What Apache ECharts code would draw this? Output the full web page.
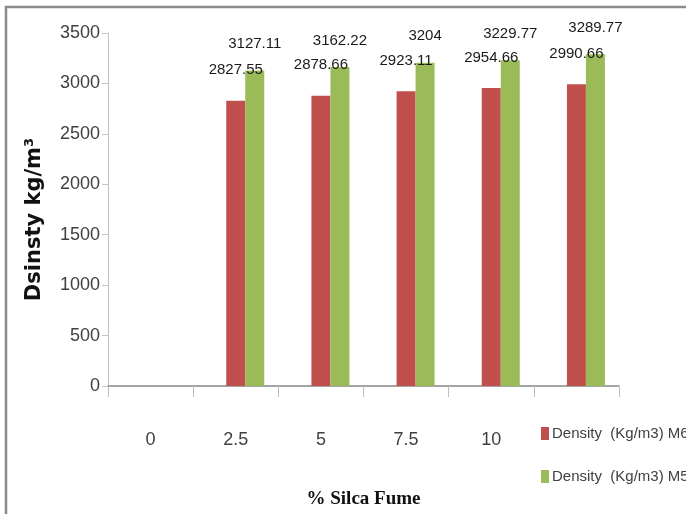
<!DOCTYPE html>
<html>
<head>
<meta charset="utf-8">
<script src="https://cdn.jsdelivr.net/npm/echarts@6/dist/echarts.min.js"></script>
<style>
  html, body { margin: 0; padding: 0; background: #fff; }
  #chart { width: 686px; height: 514px; }
</style>
</head>
<body>
<div id="chart"></div>
<script>
// Silica fume content (%) along the category axis
const categories = ['0', '2.5', '5', '7.5', '10', ''];
// Density values, kg/m3 (first category has no measurement)
const densityM60 = [null, 2827.55, 2878.66, 2923.11, 2954.66, 2990.66];
const densityM55 = [null, 3127.11, 3162.22, 3204, 3229.77, 3289.77];
const spacerSeries = [null, null, null, null, null, null];
const yTicks = { min: 0, max: 3500, interval: 500 };

const sans = '"Liberation Sans Narrow", "Liberation Sans", Arial, sans-serif';

const chart = echarts.init(document.getElementById('chart'), null, { renderer: 'canvas' });

const valueLabel = (distance) => ({
  show: true,
  position: 'top',
  distance: distance,
  fontFamily: sans,
  fontSize: 15,
  color: '#1a1a1a',
  formatter: p => String(p.value)
});

chart.setOption({
  animation: false,
  backgroundColor: '#ffffff',
  graphic: [{
    type: 'rect',
    shape: { x: 6, y: 7, width: 700, height: 530 },
    style: { fill: 'none', stroke: '#8a8a8a', lineWidth: 2.5 },
    silent: true
  }],
  grid: { left: 108, right: 67, top: 33, bottom: 127 },
  legend: {
    orient: 'vertical',
    left: 536,
    top: 421,
    itemWidth: 8,
    itemHeight: 13,
    itemGap: 28,
    icon: 'rect',
    data: ['Density  (Kg/m3) M60', 'Density  (Kg/m3) M55'],
    textStyle: { fontFamily: sans, fontSize: 15, color: '#404040', width: 220, overflow: 'none', padding: [0, 0, 0, -2] }
  },
  xAxis: {
    type: 'category',
    data: categories,
    boundaryGap: true,
    name: '% Silca Fume',
    nameLocation: 'middle',
    nameGap: 104,
    nameTextStyle: { fontFamily: '"Liberation Serif", serif', fontWeight: 'bold', fontSize: 19, color: '#111' },
    axisLine: { lineStyle: { color: '#868686', width: 1.5 } },
    axisTick: { show: true, alignWithLabel: false, length: 11, lineStyle: { color: '#bdbdbd' } },
    axisLabel: { margin: 45, fontFamily: sans, fontSize: 18, color: '#404040' },
    splitLine: { show: false }
  },
  yAxis: {
    type: 'value',
    min: yTicks.min,
    max: yTicks.max,
    interval: yTicks.interval,
    name: 'Dsinsty kg/m\u00B3',
    nameLocation: 'middle',
    nameGap: 63,
    nameTextStyle: { fontFamily: '"DejaVu Sans", Verdana, sans-serif', fontWeight: 'bold', fontSize: 21, color: '#111', padding: [0, 0, 0, -20] },
    axisLine: { show: true, lineStyle: { color: '#c4c4c4', width: 1 } },
    axisTick: { show: true, length: 6, lineStyle: { color: '#c4c4c4' } },
    axisLabel: { margin: 8, fontFamily: sans, fontSize: 18, color: '#404040', formatter: v => String(v) },
    splitLine: { show: false }
  },
  series: [
    {
      name: 'spacer',
      type: 'bar',
      data: spacerSeries,
      barWidth: 19,
      barGap: '0%',
      itemStyle: { color: 'transparent' },
      silent: true
    },
    {
      name: 'Density  (Kg/m3) M60',
      type: 'bar',
      data: densityM60,
      barWidth: 19,
      barGap: '0%',
      itemStyle: { color: '#c0504d' },
      label: valueLabel(23)
    },
    {
      name: 'Density  (Kg/m3) M55',
      type: 'bar',
      data: densityM55,
      barWidth: 19,
      barGap: '0%',
      itemStyle: { color: '#9bbb59' },
      label: valueLabel(19)
    }
  ]
});
</script>
</body>
</html>
